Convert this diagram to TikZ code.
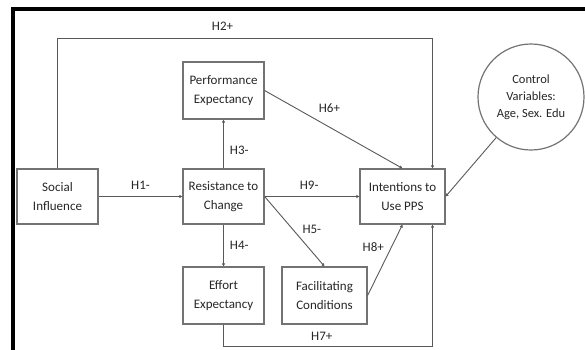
\documentclass[tikz,border=0pt]{standalone}
\usepackage{fontspec}
\setmainfont{Carlito}
\usetikzlibrary{arrows.meta}
\usetikzlibrary{positioning}
\tikzset{>={Triangle[length=3pt,width=3pt]}}

\begin{document}
\begin{tikzpicture}[
	x=1pt, y=-1pt,
	construct/.style = {
		rectangle, draw=black!55,
		line width=1.2pt,
		align=center,
		text=black!85,
		minimum width=81pt, minimum height=55pt,
		font=\fontsize{13}{18.5}\selectfont
	},
	control/.style = {
		circle, draw=black!55,
		line width=1.2pt,
		align=center,
		text=black!85,
		minimum size=106pt, inner sep=0pt,
		font=\fontsize{12.5}{17}\selectfont
	},
	link/.style = {
		->, draw=black!65,
		line width=0.9pt
	},
	hyp/.style = {
		text=black!85,
		inner sep=2pt,
		font=\fontsize{13}{15}\selectfont
	}
]
	\useasboundingbox (0,0) rectangle (585,349);
	% Frame
	\draw[line width=4pt] (13,352) -- (13,8.5) -- (588,8.5);
	% Constructs
	\node[construct] (si) at (57.5,196.5) {Social\\Influence};
	\node[construct] (rtc) at (223.5,196.5) {Resistance to\\Change};
	\node[construct, minimum height=57pt] (pe) at (223.5,90.5) {Performance\\Expectancy};
	\node[construct, minimum height=57pt] (ee) at (223.5,295.5) {Effort\\Expectancy};
	\node[construct, minimum width=85pt, minimum height=57pt] (fc) at (324.5,295.5) {Facilitating\\Conditions};
	\node[construct, minimum width=85pt] (itu) at (402.5,196.5) {Intentions to\\Use PPS};
	\node[control] (cv) at (531,97) {Control\\Variables:\\Age, Sex. Edu};
	% Hypotheses
	\draw[link] (si) -- node[hyp, above=4.5pt] (lh1) {H1-} (rtc);
	\coordinate (h2a) at (57.5,38);
	\coordinate (h2b) at (432.5,38);
	\draw[link] (si.north) -- (h2a)
		-- node[hyp, above=5.5pt, pos=0.44] (lh2) {H2+} (h2b)
		-- (h2b |- itu.north);
	\draw[link] (rtc) -- node[hyp, right=4pt, pos=0.38] (lh3) {H3-} (pe);
	\draw[link] (rtc) -- node[hyp, right=4pt] (lh4) {H4-} (ee);
	\draw[link] (rtc.east) -- node[hyp, right=7pt, pos=0.475] (lh5) {H5-} (fc.north);
	\draw[link] (pe.east) -- node[hyp, above=12pt, pos=0.47] (lh6) {H6+} (itu.north);
	\coordinate (h7a) at (223.5,346);
	\coordinate (h7b) at (432.5,346);
	\draw[link] (ee.south) -- (h7a)
		-- node[hyp, above=3pt, pos=0.47] (lh7) {H7+} (h7b)
		-- (h7b |- itu.south);
	\draw[link] (fc.east) -- node[hyp, left=5pt, pos=0.68] (lh8) {H8+} (itu.south);
	\draw[link] (rtc) -- node[hyp, above=4.5pt, pos=0.47] (lh9) {H9-} (itu);
	% Controls
	\draw[link] (cv) -- (itu.east);
\end{tikzpicture}
\end{document}
